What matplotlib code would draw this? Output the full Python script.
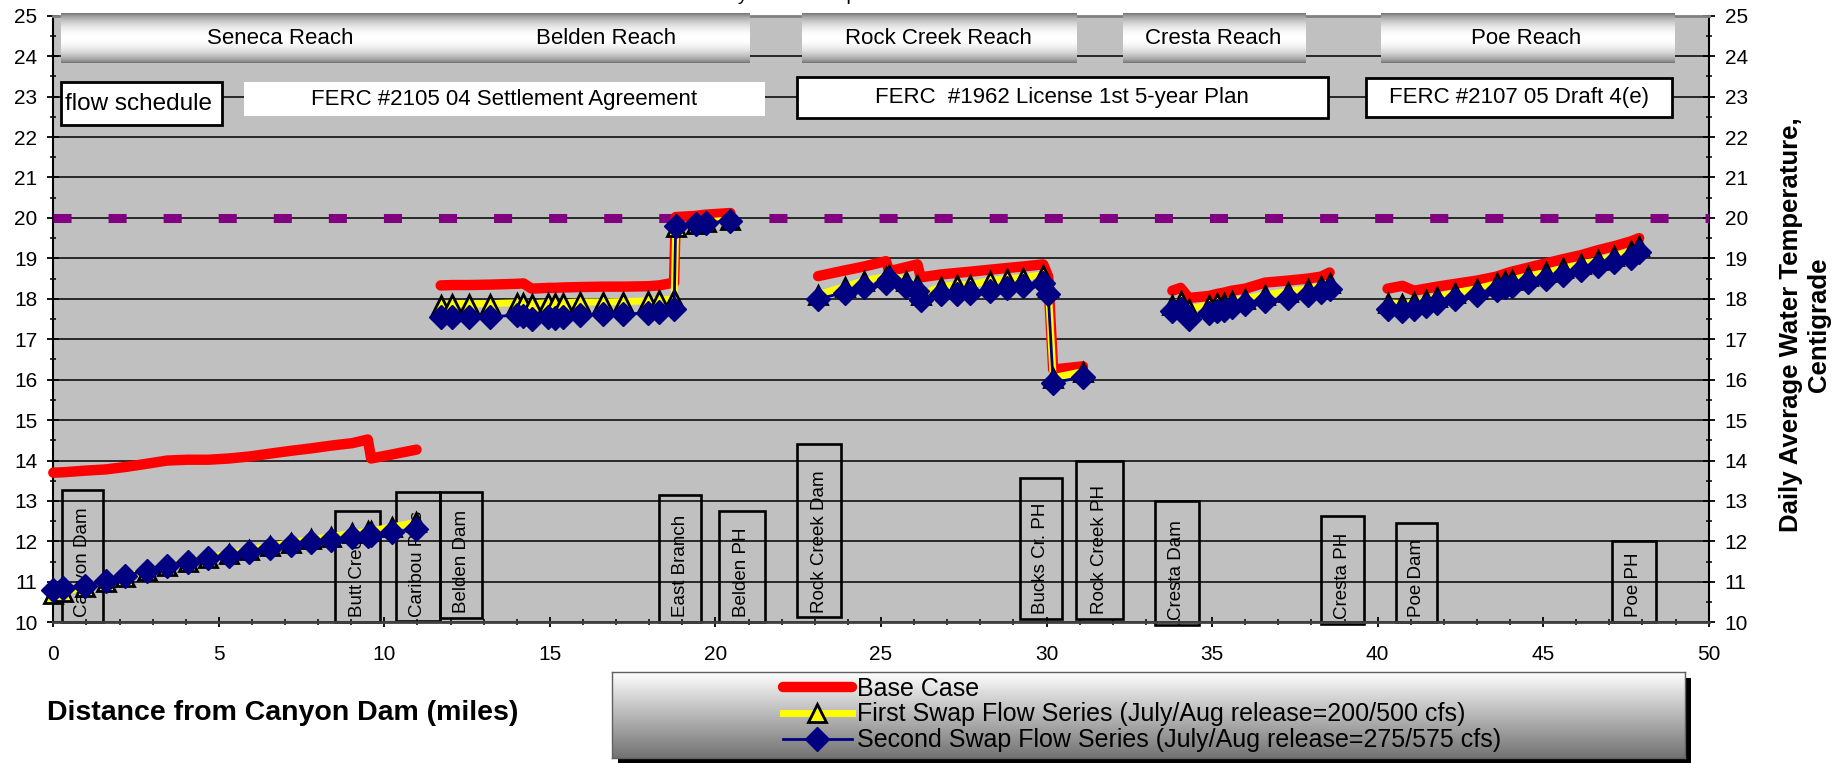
import numpy as np
import matplotlib.pyplot as plt
from matplotlib.patches import Rectangle
from matplotlib.ticker import MultipleLocator

plt.rcParams['font.family'] = ['Liberation Sans', 'DejaVu Sans']

# ---- series data: distance from Canyon Dam (miles) / temperature (deg C) ----
seneca_x = [0, 0.3, 0.96, 1.58, 2.17, 2.82, 3.44, 4.06, 4.68, 5.3, 5.92, 6.54, 7.17, 7.78, 8.4, 9.03, 9.5, 9.6, 10.23, 10.97]
seneca_base = [13.70, 13.71, 13.75, 13.78, 13.84, 13.92, 14.0, 14.02, 14.02, 14.05, 14.10, 14.17, 14.24, 14.30, 14.37, 14.43, 14.52, 14.05, 14.15, 14.27]
seneca_swap1 = [10.70, 10.75, 10.87, 11.0, 11.13, 11.27, 11.39, 11.5, 11.6, 11.69, 11.79, 11.88, 11.97, 12.05, 12.12, 12.2, 12.25, 12.26, 12.36, 12.47]
seneca_swap2 = [10.80, 10.85, 10.89, 11.03, 11.15, 11.28, 11.39, 11.49, 11.58, 11.65, 11.75, 11.83, 11.92, 11.98, 12.04, 12.10, 12.14, 12.15, 12.23, 12.31]

belden_x = [11.7, 12.05, 12.55, 13.2, 14.0, 14.2, 14.45, 14.95, 15.15, 15.4, 15.9, 16.6, 17.2, 17.95, 18.3, 18.75, 18.8, 19.4, 19.7, 20.45]
belden_base = [18.33, 18.34, 18.34, 18.35, 18.37, 18.38, 18.25, 18.27, 18.27, 18.28, 18.29, 18.3, 18.3, 18.31, 18.33, 18.4, 20.02, 20.05, 20.08, 20.12]
belden_swap1 = [17.85, 17.88, 17.88, 17.88, 17.9, 17.9, 17.88, 17.9, 17.9, 17.9, 17.92, 17.92, 17.93, 17.95, 17.97, 18.0, 19.78, 19.85, 19.9, 19.95]
belden_swap2 = [17.55, 17.55, 17.55, 17.55, 17.6, 17.58, 17.5, 17.55, 17.52, 17.55, 17.6, 17.62, 17.62, 17.65, 17.68, 17.75, 19.8, 19.85, 19.88, 19.92]

rockcreek_x = [23.1, 23.9, 24.5, 25.15, 25.25, 25.75, 26.1, 26.2, 26.8, 27.3, 27.7, 28.3, 28.8, 29.3, 29.9, 30.05, 30.2, 31.1]
rockcreek_base = [18.56, 18.7, 18.8, 18.93, 18.68, 18.78, 18.85, 18.53, 18.6, 18.64, 18.67, 18.72, 18.76, 18.8, 18.85, 18.55, 16.25, 16.33]
rockcreek_swap1 = [18.1, 18.3, 18.45, 18.55, 18.6, 18.45, 18.35, 18.1, 18.3, 18.35, 18.35, 18.45, 18.5, 18.52, 18.6, 18.3, 16.05, 16.2]
rockcreek_swap2 = [18.0, 18.15, 18.3, 18.4, 18.5, 18.3, 18.2, 17.97, 18.12, 18.12, 18.15, 18.2, 18.27, 18.32, 18.4, 18.12, 15.92, 16.07]

cresta_x = [33.8, 34.05, 34.3, 34.9, 35.15, 35.35, 35.6, 36.0, 36.6, 37.3, 37.9, 38.3, 38.55]
cresta_base = [18.2, 18.27, 18.02, 18.07, 18.12, 18.15, 18.2, 18.25, 18.4, 18.45, 18.5, 18.55, 18.65]
cresta_swap1 = [17.85, 17.95, 17.75, 17.85, 17.9, 17.9, 17.95, 18.0, 18.1, 18.18, 18.25, 18.32, 18.4]
cresta_swap2 = [17.7, 17.75, 17.5, 17.65, 17.7, 17.72, 17.8, 17.87, 17.95, 18.02, 18.1, 18.18, 18.25]

poe_x = [40.3, 40.75, 41.1, 41.45, 41.8, 42.35, 43.0, 43.6, 43.85, 44.05, 44.55, 45.1, 45.6, 46.15, 46.65, 47.15, 47.65, 47.9]
poe_base = [18.25, 18.32, 18.2, 18.25, 18.3, 18.37, 18.45, 18.55, 18.62, 18.67, 18.77, 18.88, 18.98, 19.08, 19.2, 19.3, 19.42, 19.5]
poe_swap1 = [17.9, 17.88, 17.92, 17.98, 18.05, 18.15, 18.25, 18.38, 18.43, 18.47, 18.57, 18.65, 18.75, 18.85, 18.95, 19.05, 19.18, 19.3]
poe_swap2 = [17.75, 17.7, 17.75, 17.82, 17.9, 18.0, 18.1, 18.22, 18.28, 18.32, 18.42, 18.5, 18.58, 18.7, 18.8, 18.9, 19.02, 19.15]

series_labels = ['Base Case',
                 'First Swap Flow Series (July/Aug release=200/500 cfs)',
                 'Second Swap Flow Series (July/Aug release=275/575 cfs)']

threshold_x = [0, 50]
threshold_temp = [20, 20]

# reaches along the top
reach_names = ['Seneca Reach', 'Belden Reach', 'Rock Creek Reach', 'Cresta Reach', 'Poe Reach']
reach_start = [0.23, 12.3, 22.6, 32.3, 40.1]
reach_end = [12.3, 21.0, 30.9, 37.8, 48.97]
reach_label_x = [6.85, 16.7, 26.72, 35.03, 44.48]

# flow schedule boxes
agreement_labels = ['flow schedule', 'FERC #2105 04 Settlement Agreement',
                    'FERC  #1962 License 1st 5-year Plan', 'FERC #2107 05 Draft 4(e)']
agreement_start = [0.23, 5.76, 22.46, 39.64]
agreement_end = [5.1, 21.5, 38.5, 48.9]
agreement_top = [23.36, 23.36, 23.48, 23.45]
agreement_bottom = [22.29, 22.52, 22.47, 22.49]
agreement_outlined = [True, False, True, True]

# landmarks along the river
landmark_names = ['Canyon Dam', 'Butt Creek', 'Caribou PHs', 'Belden Dam', 'East Branch', 'Belden PH',
                  'Rock Creek Dam', 'Bucks Cr. PH', 'Rock Creek PH', 'Cresta Dam', 'Cresta PH', 'Poe Dam', 'Poe PH']
landmark_left = [0.25, 8.51, 10.35, 11.68, 18.3, 20.1, 22.46, 29.2, 30.9, 33.27, 38.3, 40.55, 47.07]
landmark_right = [1.49, 9.87, 11.68, 12.96, 19.56, 21.5, 23.8, 30.46, 32.3, 34.6, 39.6, 41.8, 48.4]
landmark_top = [13.26, 12.75, 13.22, 13.22, 13.16, 12.74, 14.4, 13.57, 13.98, 12.99, 12.62, 12.45, 12.02]
landmark_bottom = [10.0, 10.0, 10.02, 10.1, 10.0, 10.0, 10.12, 10.09, 10.09, 9.94, 9.95, 10.0, 10.0]


def join(*segs):
    # glue reach segments together with gaps between them
    out = []
    for s in segs:
        out += list(s) + [np.nan]
    return np.array(out[:-1], dtype=float)


x = join(seneca_x, belden_x, rockcreek_x, cresta_x, poe_x)
base = join(seneca_base, belden_base, rockcreek_base, cresta_base, poe_base)
swap1 = join(seneca_swap1, belden_swap1, rockcreek_swap1, cresta_swap1, poe_swap1)
swap2 = join(seneca_swap2, belden_swap2, rockcreek_swap2, cresta_swap2, poe_swap2)

W, H = 1838, 763
fig = plt.figure(figsize=(W / 100, H / 100), dpi=100)
ax = fig.add_axes([53.3 / W, 1 - 622.3 / H, (1708.7 - 53.3) / W, (622.3 - 15.7) / H])
ax.set_facecolor('#C0C0C0')

# cylinder-like shading for the reach bars
t = np.linspace(0, 1, 80)
shade = (0.45 + 0.55 * np.sin(np.pi * t) ** 0.7)[:, None]
for name, x0, x1, lx in zip(reach_names, reach_start, reach_end, reach_label_x):
    ax.imshow(shade, extent=[x0, x1, 23.82, 25.05], aspect='auto', cmap='gray',
              vmin=0, vmax=1, origin='upper', zorder=3, clip_on=False)
    ax.text(lx, 24.43, name, ha='center', va='center', fontsize=16, zorder=4)

for lab, x0, x1, top, bot, outl in zip(agreement_labels, agreement_start, agreement_end,
                                       agreement_top, agreement_bottom, agreement_outlined):
    ax.add_patch(Rectangle((x0, bot), x1 - x0, top - bot, facecolor='white',
                           edgecolor='black' if outl else 'none', lw=2, zorder=3))
    if lab == 'flow schedule':
        ax.text(x0 + 0.12, (top + bot) / 2, lab, ha='left', va='center', fontsize=17.5, zorder=4)
    else:
        ax.text((x0 + x1) / 2, (top + bot) / 2, lab, ha='center', va='center', fontsize=16, zorder=4)

for name, x0, x1, top, bot in zip(landmark_names, landmark_left, landmark_right, landmark_top, landmark_bottom):
    ax.add_patch(Rectangle((x0, bot), x1 - x0, top - bot, facecolor='none',
                           edgecolor='black', lw=1.9, zorder=2, clip_on=False))
    ax.text((x0 + x1) / 2, bot + 0.12, name, rotation=90, ha='center', va='bottom',
            fontsize=13.5, zorder=2)

ax.plot(threshold_x, threshold_temp, color='#800080', lw=6.5, linestyle=(0, (2, 4.1)),
        dash_capstyle='butt', zorder=3)

l1, = ax.plot(x, base, color='#FF0000', lw=7.5, solid_capstyle='round',
              solid_joinstyle='round', zorder=5, clip_on=False)
l2, = ax.plot(x, swap1, color='#FFFF00', lw=5, marker='^', ms=13, mfc='#FFFF00',
              mec='black', mew=2, zorder=6, clip_on=False)
l3, = ax.plot(x, swap2, color='#000080', lw=2, marker='D', ms=12.5, mfc='#000080',
              mec='#000080', zorder=7, clip_on=False)

ax.set_xlim(0, 50)
ax.set_ylim(10, 25)
ax.set_xticks(range(0, 51, 5))
ax.xaxis.set_minor_locator(MultipleLocator(1))
ax.set_yticks(range(10, 26))
ax.yaxis.set_minor_locator(MultipleLocator(0.5))
ax.set_axisbelow(True)
ax.yaxis.grid(True, which='major', color='black', lw=1.1)

ax.tick_params(axis='y', which='major', direction='inout', length=8, width=1.3,
               left=True, right=True, labelleft=True, labelright=True, labelsize=15, pad=7.5)
ax.tick_params(axis='y', which='minor', direction='inout', length=5, width=1.1, left=True, right=True)
ax.tick_params(axis='x', which='major', direction='inout', length=6.5, width=1.3, labelsize=15, pad=13)
ax.tick_params(axis='x', which='minor', direction='inout', length=5, width=1.1)
for side in ['left', 'right']:
    ax.spines[side].set_color('black')
    ax.spines[side].set_linewidth(1.5)
ax.spines['top'].set_color('#808080')
ax.spines['top'].set_linewidth(2)
ax.spines['bottom'].set_color('#404040')
ax.spines['bottom'].set_linewidth(2)

# title sits mostly above the canvas, only descenders show
fig.text(580 / W, 1.0, 'Feather River Daily Water Temperature Profile', fontsize=14,
         ha='left', va='baseline')

fig.text(47 / W, 1 - 713 / H, 'Distance from Canyon Dam (miles)', fontsize=20.5,
         fontweight='bold', ha='left', va='center')
fig.text(1805 / W, 1 - 325 / H, 'Daily Average Water Temperature,\nCentigrade', rotation=90,
         fontsize=18.5, fontweight='bold', ha='center', va='center', multialignment='center')

# legend box with gradient fill and drop shadow
lx0, lx1, ly0, ly1 = 612, 1685, 672, 758
fig.patches.append(Rectangle(((lx0 + 6) / W, 1 - (ly1 + 6) / H), (lx1 - lx0) / W, (ly1 - ly0) / H,
                             transform=fig.transFigure, facecolor='black', edgecolor='none', zorder=-1))
bg = fig.add_axes([lx0 / W, 1 - ly1 / H, (lx1 - lx0) / W, (ly1 - ly0) / H])
bg.imshow(np.linspace(0.99, 0.45, 60)[:, None], aspect='auto', cmap='gray', vmin=0, vmax=1,
          extent=[0, 1, 0, 1])
bg.set_xticks([])
bg.set_yticks([])
for s in bg.spines.values():
    s.set_color('#606060')
    s.set_linewidth(1)

fig.legend(handles=[l1, l2, l3], labels=series_labels, loc='center left',
           bbox_to_anchor=(783 / W, 1 - 714.5 / H), frameon=False, fontsize=18,
           handlelength=2.75, handletextpad=0.2, labelspacing=0.08, borderpad=0,
           borderaxespad=0, numpoints=1)

fig.savefig('out.png', dpi=100)
